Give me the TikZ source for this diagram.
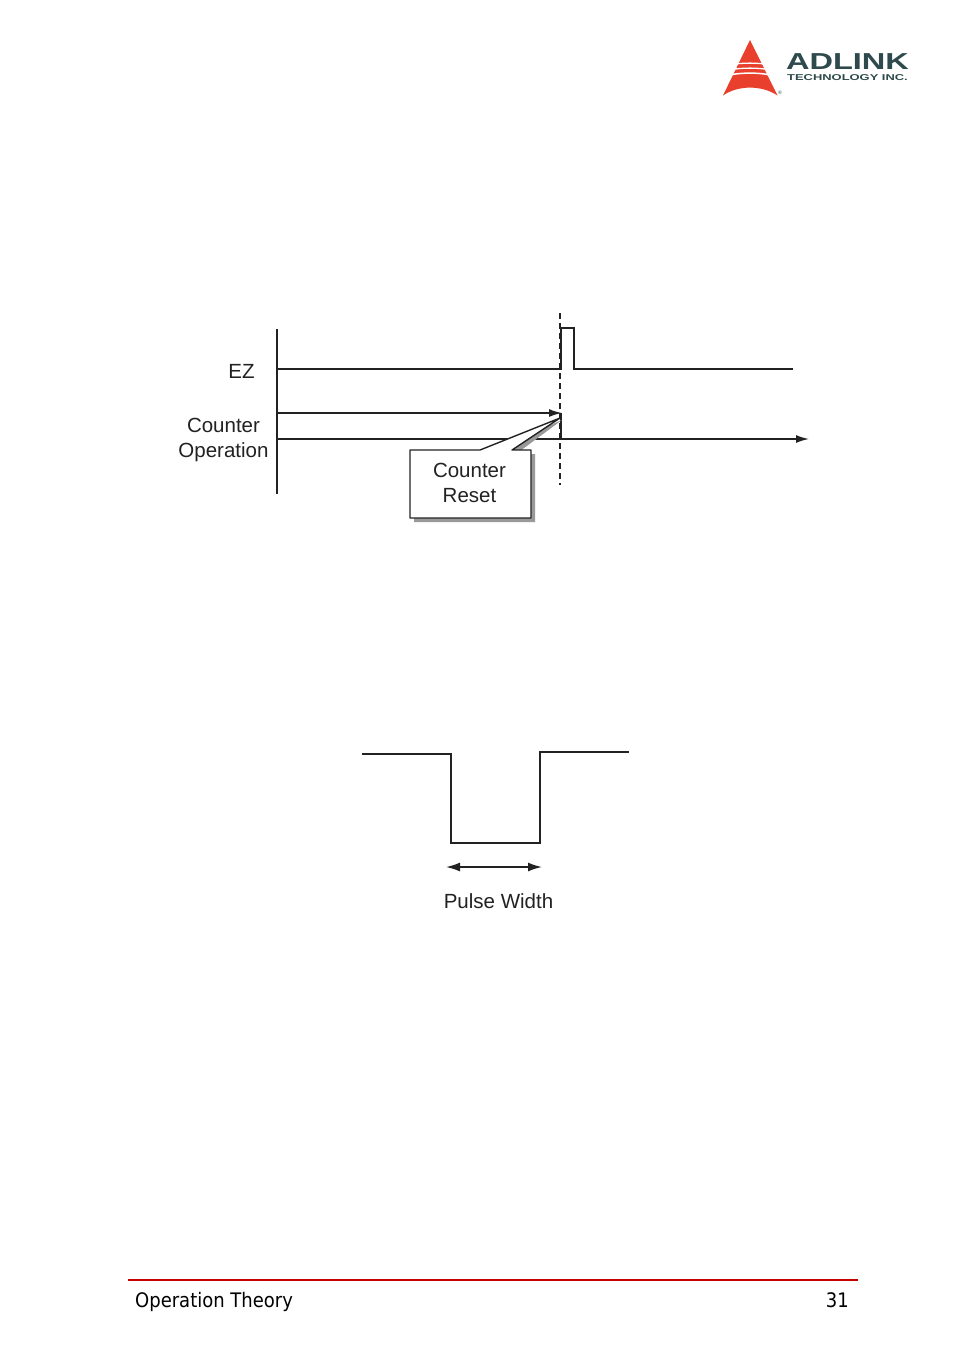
\documentclass[tikz,border=0pt]{standalone}
\usepackage{fontspec}
\setmainfont{Liberation Sans}
\newfontfamily\footfont{DejaVu Sans}
\usetikzlibrary{arrows.meta}
\definecolor{logored}{HTML}{E8402C}
\definecolor{logogrey}{HTML}{2F4A4C}
\definecolor{footred}{HTML}{C80000}
\definecolor{inkc}{HTML}{222222}
\tikzset{
 wave/.style={draw=inkc,line width=1.6pt},
 tip/.style={-{Latex[length=13pt,width=8pt]}},
 lab/.style={inner sep=0pt,font=\fontsize{20.5}{24}\selectfont,text=inkc,align=center},
 foot/.style={inner sep=0pt,font=\footfont\fontsize{20}{24}\selectfont,text=black},
}
\begin{document}
\begin{tikzpicture}[x=1pt,y=-1pt]
\useasboundingbox[fill=white] (0,0) rectangle (954,1352);
% logo
\fill[logored] (750,40) -- (777.5,95.5) .. controls (762,85) and (738,85) .. (723,95.5) -- cycle;
\foreach \yy/\ww in {63/1.3,68/1.3,73/1.5}{
 \draw[white,line width=\ww pt] (730,\yy+2) .. controls (740,\yy-0.5) and (760,\yy-0.5) .. (770,\yy+2);
}
\node[inner sep=0pt,anchor=center,text=logogrey,xscale=1.48,yscale=1.05] (brand) at (847.5,62) {\fontsize{22}{24}\selectfont\bfseries ADLINK};
\node[inner sep=0pt,anchor=center,text=logogrey,xscale=1.52] (tech) at (847.5,77.5) {\fontsize{8.5}{10}\selectfont\bfseries TECHNOLOGY INC.};
\node[inner sep=0pt,text=logogrey] (reg) at (780,93) {\fontsize{5}{6}\selectfont ®};
% timing diagram
\coordinate (axT) at (277,329);
\coordinate (axB) at (277,494);
\draw[wave] (axT) -- (axB);
\coordinate (ezS) at (277,369);
\coordinate (ezE) at (793,369);
\draw[wave] (ezS) -- (561,369) -- (561,328) -- (574,328) -- (574,369) -- (ezE);
\coordinate (cntS) at (277,413);
\coordinate (cntE) at (562,413);
\draw[wave,tip] (cntS) -- (cntE);
\coordinate (opS) at (277,439);
\coordinate (opE) at (809,439);
\draw[wave,tip] (opS) -- (opE);
\draw[wave] (561,413) -- (561,439);
\coordinate (dashT) at (560,313);
\coordinate (dashB) at (560,485);
\draw[draw=inkc,line width=1.6pt,dash pattern=on 6pt off 4pt] (dashT) -- (dashB);
% callout
\fill[black!40] (414,454) -- (484,454) -- (562,420) -- (516,454) -- (535,454) -- (535,522) -- (414,522) -- cycle;
\filldraw[fill=white,draw=inkc,line width=1.4pt,line join=round] (410,450) -- (480,450) -- (560,418) -- (512,450) -- (531,450) -- (531,518) -- (410,518) -- cycle;
\node[lab] (reset) at (469.5,483) {Counter\\[1pt]Reset};
\node[lab] (ez) at (241.5,371.5) {EZ};
\node[lab] (op) at (223.5,440) {Counter\\[1pt]Operation};
% pulse
\coordinate (pS) at (362,754);
\coordinate (pE) at (629,752);
\draw[wave] (pS) -- (451,754) -- (451,843) -- (540,843) -- (540,752) -- (pE);
\coordinate (wL) at (446,867);
\coordinate (wR) at (542,867);
\draw[wave,{Latex[length=14pt,width=9pt]}-{Latex[length=14pt,width=9pt]}] (wL) -- (wR);
\node[lab] (pw) at (498.5,901.5) {Pulse Width};
% footer
\coordinate (fL) at (128,1280);
\coordinate (fR) at (858,1280);
\draw[footred,line width=1.8pt] (fL) -- (fR);
\node[foot,anchor=base west,xscale=0.9] (title) at (135,1307) {Operation Theory};
\node[foot,anchor=base east,xscale=0.9] (page) at (849,1307) {31};
\end{tikzpicture}
\end{document}
